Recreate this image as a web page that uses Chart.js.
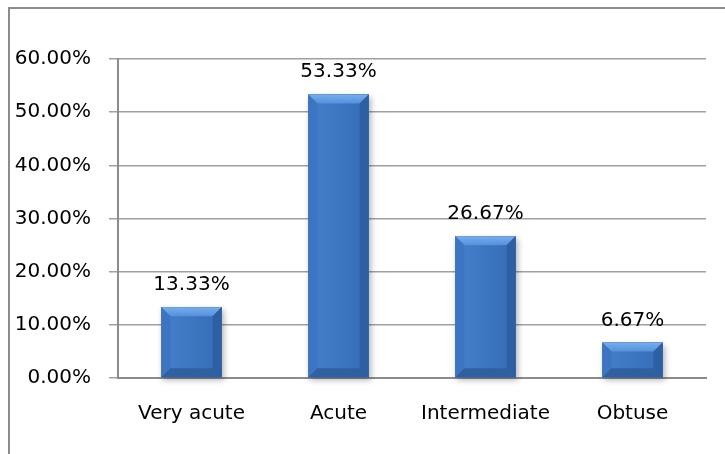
<!DOCTYPE html>
<html>
<head>
<meta charset="utf-8">
<script src="https://cdn.jsdelivr.net/npm/chart.js@4"></script>
<style>
  html, body { margin: 0; padding: 0; background: #fff; }
  #wrap { position: relative; width: 725px; height: 454px; overflow: hidden; }
  #frame { position: absolute; left: 8px; top: 7px; width: 800px; height: 600px;
           border-left: 2px solid #8c8c8c; border-top: 2px solid #8c8c8c; }
  canvas { position: absolute; left: 0; top: 0; }
</style>
</head>
<body>
<div id="wrap">
  <div id="frame"></div>
  <canvas id="chart" width="725" height="454"></canvas>
</div>
<script>
var categories = ['Very acute', 'Acute', 'Intermediate', 'Obtuse'];
var percents   = [13.33, 53.33, 26.67, 6.67];
var yTicks     = [0, 10, 20, 30, 40, 50, 60];

var FONT = 'DejaVu Sans';

// soft drop shadow behind each bar
var barShadow = {
    id: 'barShadow',
    beforeDatasetsDraw: function(chart){
        var ctx = chart.ctx;
        chart.getDatasetMeta(0).data.forEach(function(bar){
            var w = bar.width;
            ctx.save();
            ctx.shadowColor = 'rgba(0,0,0,0.3)';
            ctx.shadowBlur = 6;
            ctx.shadowOffsetX = 2;
            ctx.shadowOffsetY = 3;
            ctx.fillStyle = '#2d5a9a';
            ctx.fillRect(bar.x - w/2, bar.y, w, bar.base - bar.y);
            ctx.restore();
        });
    }
};

// bevelled edges on top of the flat bar face, plus the value labels
var barBevel = {
    id: 'barBevel',
    afterDatasetsDraw: function(chart){
        var ctx = chart.ctx;
        var data = chart.data.datasets[0].data;
        chart.getDatasetMeta(0).data.forEach(function(bar, i){
            var w = bar.width;
            var l = bar.x - w/2, r = bar.x + w/2, t = bar.y, b = bar.base;
            var bv = Math.min(9, (b - t)/2);
            ctx.save();
            // face
            var f = ctx.createLinearGradient(l, 0, r, 0);
            f.addColorStop(0, '#4580cc');
            f.addColorStop(1, '#356cb5');
            ctx.fillStyle = f;
            ctx.fillRect(l, t, w, b - t);
            // top
            var g = ctx.createLinearGradient(0, t, 0, t + bv);
            g.addColorStop(0, '#78aeef');
            g.addColorStop(1, '#5590da');
            ctx.fillStyle = g;
            ctx.beginPath();
            ctx.moveTo(l, t); ctx.lineTo(r, t); ctx.lineTo(r - bv, t + bv); ctx.lineTo(l + bv, t + bv);
            ctx.closePath(); ctx.fill();
            // left
            ctx.fillStyle = '#3d75c2';
            ctx.beginPath();
            ctx.moveTo(l, t); ctx.lineTo(l + bv, t + bv); ctx.lineTo(l + bv, b - bv); ctx.lineTo(l, b);
            ctx.closePath(); ctx.fill();
            // right
            ctx.fillStyle = '#2e5fa3';
            ctx.beginPath();
            ctx.moveTo(r, t); ctx.lineTo(r - bv, t + bv); ctx.lineTo(r - bv, b - bv); ctx.lineTo(r, b);
            ctx.closePath(); ctx.fill();
            // bottom
            ctx.fillStyle = '#30609f';
            ctx.beginPath();
            ctx.moveTo(l, b); ctx.lineTo(l + bv, b - bv); ctx.lineTo(r - bv, b - bv); ctx.lineTo(r, b);
            ctx.closePath(); ctx.fill();

            // value label
            ctx.fillStyle = '#000';
            ctx.font = '20px "' + FONT + '"';
            ctx.textAlign = 'center';
            ctx.textBaseline = 'alphabetic';
            ctx.fillText(data[i].toFixed(2) + '%', bar.x, t - 17);
            ctx.restore();
        });
    }
};

var context = document.getElementById('chart').getContext('2d');
var myChart = new Chart(context, {
    type: 'bar',
    data: {
        labels: categories,
        datasets: [{
            data: percents,
            backgroundColor: '#3b74c0',
            borderWidth: 0,
            barPercentage: 0.41,
            categoryPercentage: 1
        }]
    },
    plugins: [barShadow, barBevel],
    options: {
        responsive: false,
        animation: false,
        layout: { padding: { left: 0, right: 19, top: 59, bottom: 0 } },
        plugins: {
            legend: { display: false },
            tooltip: { enabled: false }
        },
        scales: {
            x: {
                grid: { display: false },
                border: { display: true, color: '#8c8c8c', width: 2 },
                ticks: {
                    color: '#000',
                    font: { family: FONT, size: 20 },
                    padding: 16
                },
                afterFit: function(scale){ scale.height = 76; }
            },
            y: {
                min: 0,
                max: 60,
                afterBuildTicks: function(scale){
                    scale.ticks = yTicks.map(function(v){ return { value: v }; });
                },
                grid: {
                    color: '#a0a0a0',
                    lineWidth: 1.5,
                    tickLength: 9,
                    drawTicks: true
                },
                border: { display: true, color: '#8c8c8c', width: 2 },
                ticks: {
                    color: '#000',
                    font: { family: FONT, size: 20 },
                    padding: 18,
                    callback: function(v){ return v.toFixed(2) + '%'; }
                },
                afterFit: function(scale){ scale.width = 118; }
            }
        }
    }
});
</script>
</body>
</html>
